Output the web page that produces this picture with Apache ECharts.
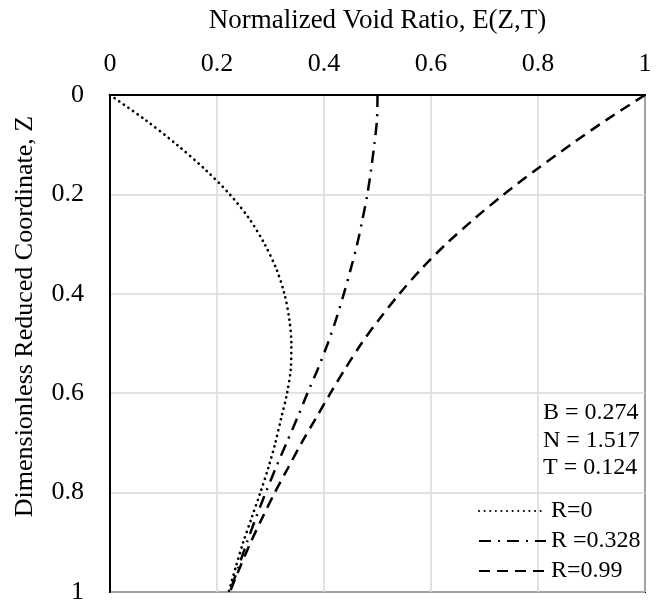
<!DOCTYPE html>
<html>
<head>
<meta charset="utf-8">
<script src="https://cdn.jsdelivr.net/npm/echarts@6/dist/echarts.min.js"></script>
<style>html,body{margin:0;padding:0;background:#fff}#c{width:657px;height:604px}</style>
</head>
<body>
<div id="c"></div>
<script>
const zValues = [0,0.05,0.1,0.15,0.2,0.25,0.3,0.35,0.4,0.45,0.5,0.55,0.6,0.65,0.7,0.75,0.8,0.85,0.9,0.95,1.0];
const eR0     = [0,0.066,0.125,0.178,0.224,0.261,0.289,0.311,0.326,0.335,0.339,0.338,0.331,0.320,0.309,0.296,0.281,0.265,0.249,0.235,0.222];
const eR0328  = [0.500,0.499,0.494,0.488,0.481,0.472,0.462,0.450,0.437,0.423,0.407,0.389,0.369,0.350,0.330,0.310,0.291,0.273,0.256,0.240,0.224];
const eR099   = [1.000,0.928,0.861,0.797,0.736,0.680,0.628,0.582,0.541,0.504,0.470,0.440,0.412,0.385,0.358,0.333,0.308,0.285,0.263,0.243,0.224];
const seriesNames = ['R=0','R =0.328','R=0.99'];
const xTicks = [0,0.2,0.4,0.6,0.8,1];
const yTicks = [0,0.2,0.4,0.6,0.8,1];
const paramLines = ['B = 0.274','N = 1.517','T = 0.124'];
const xTitle = 'Normalized Void Ratio, E(Z,T)';
const yTitle = 'Dimensionless Reduced Coordinate, Z';

const FONT = '"Liberation Serif","Times New Roman",serif';
const pairs = arr => arr.map((e,i)=>[e, zValues[i]]);
const styles = [
  {type:[0.1,5.5], cap:'round', width:2.7},
  {type:[12,7,2,7], cap:'butt', width:2.5},
  {type:[11,7], cap:'butt', width:2.5}
];
const dataSets = [eR0, eR0328, eR099];

const chart = echarts.init(document.getElementById('c'), null, {renderer:'canvas'});
chart.setOption({
  animation:false,
  backgroundColor:'#fff',
  textStyle:{fontFamily:FONT, color:'#000'},
  grid:{left:110, top:95, width:535, height:497, show:true, borderColor:'#000', borderWidth:2,
    backgroundColor:'transparent', containLabel:false, outerBoundsMode:'none'},
  xAxis:{
    type:'value', position:'top', min:0, max:1, interval:0.2,
    name:xTitle, nameLocation:'middle', nameGap:61,
    nameTextStyle:{fontFamily:FONT, fontSize:27, color:'#000'},
    axisLine:{show:true, lineStyle:{color:'#000', width:2}},
    axisTick:{show:false},
    axisLabel:{fontFamily:FONT, fontSize:26, color:'#000', margin:18,
      formatter:v=>{const t=xTicks.find(t=>Math.abs(t-v)<1e-9);return t===undefined?'':String(t);}},
    splitLine:{show:true, lineStyle:{color:'#d9d9d9', width:1.5}}
  },
  yAxis:{
    type:'value', inverse:true, min:0, max:1, interval:0.2,
    name:yTitle, nameLocation:'middle', nameGap:72, nameRotate:90,
    nameTextStyle:{fontFamily:FONT, fontSize:26, color:'#000', padding:[0,0,0,54]},
    axisLine:{show:true, lineStyle:{color:'#000', width:2}},
    axisTick:{show:false},
    axisLabel:{fontFamily:FONT, fontSize:26, color:'#000', margin:26,
      formatter:v=>{const t=yTicks.find(t=>Math.abs(t-v)<1e-9);return t===undefined?'':String(t);}},
    splitLine:{show:true, lineStyle:{color:'#d9d9d9', width:1.5}}
  },
  legend:{
    orient:'vertical', left:473, top:494, itemWidth:67, itemHeight:14, itemGap:6,
    data:seriesNames.map(n=>({name:n})),
    itemStyle:{opacity:0},
    textStyle:{fontFamily:FONT, fontSize:24, color:'#000', lineHeight:24, padding:[0,0,0,0]}
  },
  graphic:[{
    type:'group', left:543, top:401,
    children: paramLines.map((t,i)=>({type:'text', x:0, y:i*27.5, style:{text:t, font:'24px '+FONT, fill:'#000'}}))
  }],
  series: dataSets.map((d,i)=>({
    name:seriesNames[i], type:'line', data:pairs(d), smooth:0.3, showSymbol:false, symbol:'none',
    color:'#000',
    lineStyle:{color:'#000', width:styles[i].width, type:styles[i].type, cap:styles[i].cap}
  }))
});
</script>
</body>
</html>
